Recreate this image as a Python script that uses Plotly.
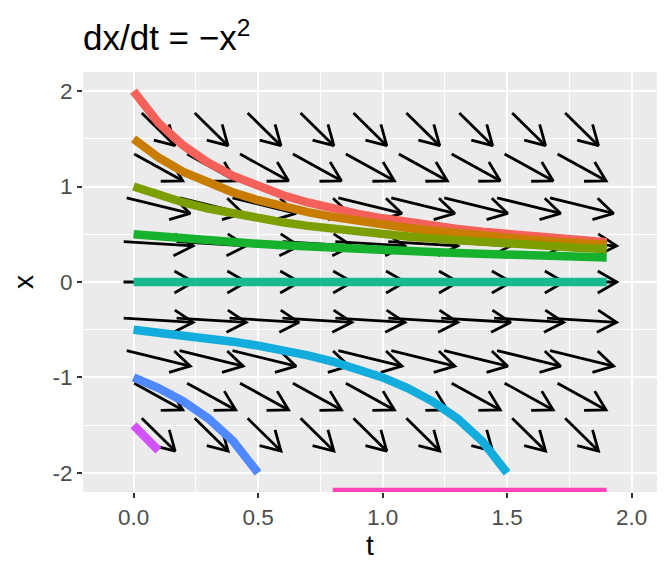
import math
import plotly.graph_objects as go

# direction field grid (arrow centres) and the slope dx/dt read for each row
field_t = [0.1, 0.3125, 0.525, 0.7375, 0.95, 1.1625, 1.375, 1.5875, 1.8]
field_x = [-1.6, -1.2, -0.8, -0.4, 0.0, 0.4, 0.8, 1.2, 1.6]
field_slope = [-2.56, -1.44, -0.64, -0.16, 0.0, -0.16, -0.64, -1.44, -2.56]

# solution curves, one per starting value
sol_t = [0.0, 0.1, 0.2, 0.3, 0.4, 0.5, 0.6, 0.7, 0.8, 0.9,
         1.0, 1.1, 1.2, 1.3, 1.4, 1.5, 1.6, 1.7, 1.8, 1.9]
NEG_INF = float("-inf")
sol_x = {
    "2": [2.0, 1.667, 1.429, 1.25, 1.111, 1.0, 0.909, 0.833, 0.769, 0.714,
          0.667, 0.625, 0.588, 0.556, 0.526, 0.5, 0.476, 0.455, 0.435, 0.417],
    "1.5": [1.5, 1.304, 1.154, 1.034, 0.938, 0.857, 0.789, 0.732, 0.682, 0.638,
            0.6, 0.566, 0.536, 0.508, 0.484, 0.462, 0.441, 0.423, 0.405, 0.39],
    "1": [1.0, 0.909, 0.833, 0.769, 0.714, 0.667, 0.625, 0.588, 0.556, 0.526,
          0.5, 0.476, 0.455, 0.435, 0.417, 0.4, 0.385, 0.37, 0.357, 0.345],
    "0.5": [0.5, 0.476, 0.455, 0.435, 0.417, 0.4, 0.385, 0.37, 0.357, 0.345,
            0.333, 0.323, 0.313, 0.303, 0.294, 0.286, 0.278, 0.27, 0.263, 0.256],
    "0": [0.0] * 20,
    "-0.5": [-0.5, -0.526, -0.556, -0.588, -0.625, -0.667, -0.714, -0.769, -0.833, -0.909,
             -1.0, -1.111, -1.25, -1.429, -1.667, -2.0, None, None, None, None],
    "-1": [-1.0, -1.111, -1.25, -1.429, -1.667, -2.0] + [None] * 14,
    "-1.5": [-1.5, -1.765] + [None] * 18,
    "-2": [-2.0] + [None] * 7 + [NEG_INF] * 12,
}
sol_colors = ["#F4615B", "#C97D00", "#7D9E00", "#16B22E", "#17BA8F",
              "#12ADDD", "#5088FF", "#D152F8", "#FF45B9"]

x_ticks = [0, 0.5, 1, 1.5, 2]
x_labels = ["0.0", "0.5", "1.0", "1.5", "2.0"]
y_ticks = [-2, -1, 0, 1, 2]
y_labels = ["-2", "-1", "0", "1", "2"]

W, H = 672, 576
ML, MR, MT, MB = 83, 15, 72, 84
XR = [-0.203, 2.102]
YR = [-2.2, 2.2]
sx = (W - ML - MR) / (XR[1] - XR[0])
sy = (H - MT - MB) / (YR[1] - YR[0])

fig = go.Figure()

# arrows: centred segments with open heads
L, K = 0.281, 0.52
head_px, head_ang = 22, math.radians(30)
ax_t, ax_x = [], []
for xv, f in zip(field_x, field_slope):
    for tv in field_t:
        dt = L / math.sqrt(1 + K * f * f)
        dx = f * dt
        t0, x0 = tv - dt / 2, xv - dx / 2
        t1, x1 = tv + dt / 2, xv + dx / 2
        # back direction in pixel space
        bx, by = -dt * sx, dx * sy
        n = math.hypot(bx, by)
        bx, by = bx / n, by / n
        barbs = []
        for s in (1, -1):
            c, si = math.cos(s * head_ang), math.sin(s * head_ang)
            px = (bx * c - by * si) * head_px
            py = (bx * si + by * c) * head_px
            barbs.append((t1 + px / sx, x1 - py / sy))
        ax_t += [t0, t1, None, barbs[0][0], t1, barbs[1][0], None]
        ax_x += [x0, x1, None, barbs[0][1], x1, barbs[1][1], None]

fig.add_trace(go.Scatter(x=ax_t, y=ax_x, mode="lines",
                         line=dict(color="black", width=2.8),
                         hoverinfo="skip"))

for (name, xs), col in zip(sol_x.items(), sol_colors):
    ys = [YR[0] if v == NEG_INF else v for v in xs]
    fig.add_trace(go.Scatter(x=sol_t, y=ys, mode="lines", name=name,
                             line=dict(color=col, width=8.5)))

axis_common = dict(
    showgrid=True, gridcolor="white", gridwidth=2,
    minor=dict(showgrid=True, gridcolor="white", gridwidth=1),
    zeroline=False, ticks="outside", ticklen=5, tickwidth=2,
    tickcolor="#333333", tickfont=dict(size=22.5, color="#4D4D4D"),
    showline=False, automargin=False,
)

fig.update_layout(
    width=W, height=H,
    margin=dict(l=ML, r=MR, t=MT, b=MB),
    paper_bgcolor="white", plot_bgcolor="#EBEBEB",
    showlegend=False,
    font=dict(family="Liberation Sans, Arial, sans-serif", color="black"),
    title=dict(text="dx/dt = \u2212x<sup>2</sup>", x=ML / W, xanchor="left",
               xref="container", y=1 - 38 / H, yanchor="middle",
               automargin=False, pad=dict(l=0, r=0, t=0, b=0),
               font=dict(size=35, color="black")),
    xaxis=dict(range=XR, tickvals=x_ticks, ticktext=x_labels,
               minor_tickvals=[0.25, 0.75, 1.25, 1.75],
               title=dict(text="t", font=dict(size=28), standoff=4),
               **axis_common),
    yaxis=dict(range=YR, tickvals=y_ticks, ticktext=y_labels,
               minor_tickvals=[-1.5, -0.5, 0.5, 1.5],
               title=dict(text="x", font=dict(size=28), standoff=10),
               **axis_common),
)

fig.write_html("out.html", config={"displayModeBar": False},
               post_script="document.body.style.margin='0';")
